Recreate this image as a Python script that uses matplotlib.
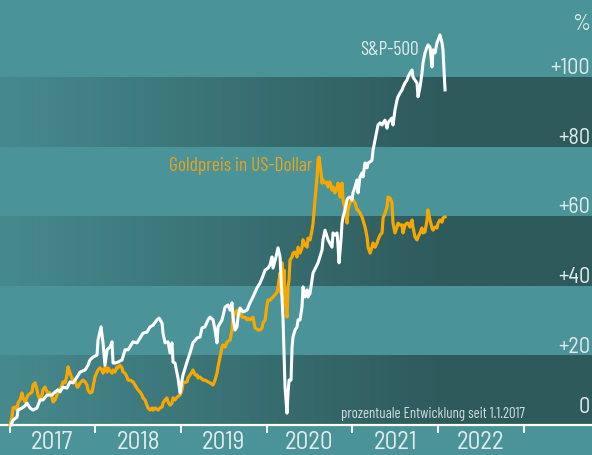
"""S&P-500 vs. Goldpreis in US-Dollar, prozentuale Entwicklung seit 1.1.2017."""
import matplotlib
matplotlib.use("Agg")
import matplotlib.pyplot as plt
import numpy as np
from matplotlib import font_manager as fm
from matplotlib.colors import to_rgb

# --- data: years since 1.1.2017 / percent change -------------------------
sp_t = [0.018, 0.041, 0.088, 0.099, 0.146, 0.181, 0.204, 0.239, 0.274, 0.321,
        0.356, 0.391, 0.438, 0.496, 0.531, 0.566, 0.589, 0.624, 0.671, 0.706,
        0.741, 0.788, 0.823, 0.881, 0.916, 0.939, 0.974, 1.021, 1.033, 1.068,
        1.091, 1.114, 1.138, 1.173, 1.196, 1.208, 1.231, 1.266, 1.313, 1.348,
        1.383, 1.441, 1.488, 1.523, 1.558, 1.604, 1.640, 1.675, 1.721, 1.745,
        1.780, 1.791, 1.815, 1.850, 1.873, 1.896, 1.908, 1.931, 1.966, 1.990,
        2.013, 2.025, 2.071, 2.106, 2.141, 2.188, 2.223, 2.246, 2.281, 2.316,
        2.340, 2.375, 2.398, 2.421, 2.433, 2.480, 2.515, 2.550, 2.573, 2.596,
        2.608, 2.631, 2.655, 2.666, 2.690, 2.725, 2.771, 2.806, 2.841, 2.888,
        2.923, 2.947, 2.982, 3.017, 3.040, 3.063, 3.075, 3.110, 3.133, 3.157,
        3.168, 3.192, 3.203, 3.215, 3.238, 3.250, 3.262, 3.285, 3.297, 3.308,
        3.332, 3.355, 3.367, 3.390, 3.413, 3.425, 3.448, 3.472, 3.483, 3.507,
        3.542, 3.600, 3.647, 3.658, 3.682, 3.717, 3.763, 3.775, 3.798, 3.822,
        3.833, 3.845, 3.868, 3.880, 3.892, 3.915, 3.939, 3.950, 3.973, 3.997,
        4.008, 4.032, 4.055, 4.067, 4.090, 4.113, 4.125, 4.149, 4.172, 4.184,
        4.207, 4.230, 4.242, 4.265, 4.289, 4.300, 4.324, 4.347, 4.359, 4.382,
        4.405, 4.417, 4.440, 4.463, 4.475, 4.498, 4.522, 4.533, 4.557, 4.580,
        4.592, 4.615, 4.638, 4.650, 4.673, 4.697, 4.708, 4.732, 4.755, 4.767,
        4.790, 4.813, 4.825, 4.848, 4.872, 4.883, 4.907, 4.930, 4.942, 4.965,
        4.988, 5.000, 5.023, 5.047, 5.058, 5.082]
sp_v = [0.0, 1.4, 2.3, 4.3, 4.9, 5.5, 6.3, 4.9, 4.3, 4.9,
        7.2, 7.2, 8.6, 8.6, 9.5, 10.1, 9.5, 10.9, 10.6, 12.4,
        12.1, 13.8, 15.2, 15.8, 17.2, 18.7, 19.5, 20.1, 24.4, 28.2,
        23.6, 17.2, 21.6, 22.4, 23.9, 17.8, 17.8, 18.1, 18.7, 21.6,
        21.6, 23.9, 23.6, 25.0, 26.4, 26.7, 28.2, 28.7, 30.2, 30.7,
        29.3, 26.4, 23.6, 23.9, 20.7, 23.6, 18.1, 17.8, 13.5, 9.2,
        12.9, 14.4, 18.1, 20.7, 23.6, 25.0, 25.3, 27.9, 28.2, 30.2,
        31.0, 30.2, 27.3, 23.6, 28.2, 30.2, 33.9, 34.5, 33.0, 35.1,
        31.0, 27.3, 28.2, 31.0, 33.6, 32.5, 33.0, 35.1, 36.8, 39.4,
        40.8, 42.2, 44.5, 45.1, 46.0, 48.3, 45.1, 48.3, 50.9, 48.3,
        42.5, 30.2, 20.7, 10.9, 3.4, 9.2, 12.9, 12.9, 22.4, 25.3,
        27.3, 28.2, 30.2, 30.2, 33.9, 39.7, 36.8, 38.8, 36.8, 37.9,
        43.7, 46.6, 50.3, 53.2, 56.0, 53.2, 51.1, 55.2, 54.6, 55.2,
        51.7, 46.6, 53.2, 58.0, 59.8, 61.8, 64.7, 65.2, 65.5, 64.7,
        66.7, 68.4, 70.4, 66.7, 71.3, 72.4, 71.3, 75.3, 73.9, 75.3,
        75.6, 76.1, 79.0, 81.9, 84.8, 86.2, 86.8, 86.2, 86.8, 87.6,
        85.3, 86.8, 87.6, 88.2, 86.2, 90.5, 93.4, 94.3, 95.4, 96.3,
        97.1, 98.3, 99.1, 100.0, 101.1, 102.0, 100.0, 99.1, 98.3, 94.3,
        97.1, 101.1, 104.0, 106.9, 108.6, 109.2, 108.6, 102.9, 107.8, 106.9,
        109.8, 110.6, 112.1, 109.8, 107.8, 96.3]

gold_t = [0.006, 0.029, 0.041, 0.064, 0.088, 0.099, 0.123, 0.146, 0.158, 0.181,
          0.204, 0.216, 0.263, 0.274, 0.298, 0.321, 0.333, 0.356, 0.379, 0.391,
          0.414, 0.438, 0.473, 0.496, 0.508, 0.531, 0.554, 0.566, 0.589, 0.613,
          0.624, 0.648, 0.671, 0.683, 0.706, 0.729, 0.741, 0.764, 0.788, 0.799,
          0.823, 0.858, 0.881, 0.904, 0.916, 0.939, 0.963, 0.974, 0.998, 1.021,
          1.033, 1.056, 1.079, 1.091, 1.114, 1.138, 1.149, 1.196, 1.208, 1.231,
          1.254, 1.266, 1.289, 1.313, 1.324, 1.348, 1.371, 1.383, 1.406, 1.441,
          1.464, 1.488, 1.499, 1.523, 1.546, 1.558, 1.581, 1.604, 1.616, 1.640,
          1.663, 1.675, 1.698, 1.733, 1.756, 1.780, 1.791, 1.815, 1.838, 1.850,
          1.873, 1.896, 1.908, 1.931, 1.955, 1.990, 2.013, 2.025, 2.071, 2.083,
          2.106, 2.130, 2.141, 2.165, 2.188, 2.200, 2.223, 2.258, 2.281, 2.316,
          2.340, 2.375, 2.398, 2.421, 2.433, 2.456, 2.480, 2.491, 2.515, 2.538,
          2.573, 2.596, 2.608, 2.631, 2.655, 2.666, 2.690, 2.713, 2.748, 2.771,
          2.783, 2.806, 2.841, 2.865, 2.900, 2.923, 2.947, 2.958, 2.982, 3.005,
          3.017, 3.040, 3.075, 3.098, 3.122, 3.133, 3.157, 3.168, 3.180, 3.192,
          3.203, 3.215, 3.238, 3.250, 3.262, 3.273, 3.297, 3.308, 3.332, 3.355,
          3.367, 3.390, 3.413, 3.425, 3.448, 3.472, 3.483, 3.507, 3.530, 3.542,
          3.565, 3.589, 3.600, 3.612, 3.635, 3.647, 3.658, 3.682, 3.705, 3.717,
          3.740, 3.763, 3.775, 3.798, 3.822, 3.833, 3.857, 3.880, 3.892, 3.915,
          3.939, 3.950, 3.973, 3.997, 4.008, 4.032, 4.055, 4.067, 4.090, 4.113,
          4.125, 4.149, 4.172, 4.184, 4.207, 4.230, 4.242, 4.265, 4.289, 4.300,
          4.324, 4.347, 4.359, 4.382, 4.405, 4.417, 4.440, 4.463, 4.475, 4.498,
          4.522, 4.533, 4.557, 4.580, 4.592, 4.615, 4.638, 4.650, 4.673, 4.697,
          4.708, 4.732, 4.755, 4.767, 4.790, 4.813, 4.825, 4.848, 4.872, 4.883,
          4.907, 4.930, 4.942, 4.965, 4.988, 5.000, 5.023, 5.047, 5.058, 5.082]
gold_v = [0.0, 2.3, 4.9, 5.2, 4.3, 6.3, 7.2, 9.2, 7.8, 6.6,
          8.0, 8.6, 9.5, 11.5, 12.1, 10.1, 8.6, 7.2, 8.6, 10.1,
          10.9, 9.5, 9.2, 8.0, 6.6, 7.2, 8.6, 10.1, 10.1, 11.5,
          12.4, 12.1, 14.4, 16.7, 14.9, 13.5, 12.4, 12.9, 10.9, 10.9,
          12.1, 12.9, 12.4, 11.5, 10.1, 9.2, 9.5, 10.9, 13.8, 15.2,
          15.8, 16.4, 15.8, 14.9, 16.7, 15.2, 16.4, 14.9, 15.8, 15.2,
          16.7, 16.4, 17.2, 16.4, 15.2, 14.9, 13.8, 12.9, 12.9, 12.4,
          11.5, 10.6, 10.1, 9.5, 8.6, 7.8, 7.2, 5.7, 4.9, 4.3,
          4.9, 4.3, 4.9, 4.3, 4.9, 5.2, 6.3, 7.2, 7.8, 6.6,
          5.7, 6.3, 7.8, 7.2, 8.0, 8.6, 10.1, 12.1, 12.4, 13.5,
          14.4, 15.2, 15.8, 14.4, 14.4, 13.5, 13.8, 12.9, 12.9, 12.4,
          12.1, 11.5, 12.9, 14.9, 16.7, 19.5, 22.4, 23.0, 22.4, 23.9,
          24.4, 27.3, 31.0, 32.2, 33.0, 31.6, 32.2, 31.0, 31.0, 30.2,
          30.7, 30.2, 31.0, 27.9, 27.3, 27.3, 27.9, 29.3, 30.2, 34.5,
          35.9, 35.9, 36.8, 37.4, 38.2, 39.7, 43.7, 37.9, 46.6, 36.8,
          44.5, 35.9, 31.0, 39.7, 41.7, 47.4, 48.3, 49.4, 49.7, 48.3,
          51.1, 49.4, 50.9, 53.2, 51.7, 51.1, 53.7, 53.2, 56.0, 58.0,
          64.7, 71.3, 76.1, 77.0, 72.4, 69.5, 70.4, 69.5, 69.8, 68.4,
          69.8, 67.5, 68.4, 66.7, 68.4, 69.5, 65.5, 69.5, 64.7, 61.8,
          58.0, 61.8, 63.8, 65.2, 64.7, 63.8, 61.8, 61.8, 60.9, 59.8,
          58.9, 56.9, 54.0, 51.1, 49.4, 51.1, 52.3, 51.1, 52.3, 53.2,
          54.6, 55.2, 59.5, 60.9, 62.6, 65.5, 65.2, 63.8, 58.0, 55.2,
          56.9, 58.0, 57.5, 57.5, 55.2, 57.5, 58.0, 58.0, 56.9, 58.9,
          56.9, 54.0, 53.2, 54.0, 55.2, 56.6, 55.2, 55.5, 58.9, 61.8,
          58.9, 56.6, 56.0, 56.9, 56.6, 58.0, 58.9, 58.3, 59.5, 59.8]

years = [2017, 2018, 2019, 2020, 2021, 2022]
y_ticks = [0, 20, 40, 60, 80, 100]
y_labels = ["0", "+20", "+40", "+60", "+80", "+100"]

# --- style -----------------------------------------------------------------
LIGHT = "#4a9398"
DARK_L, DARK_R = "#468a8e", "#2e5a5c"
TXT = "#e2ebeb"
GOLD, GOLD_TXT = "#f7a800", "#e9a41e"
names = {f.name for f in fm.fontManager.ttflist}
FONT = next((f for f in ("Barlow Condensed", "Roboto Condensed", "Archivo Narrow",
                         "Asap Condensed") if f in names), "DejaVu Sans")
AXFONT = "Barlow Semi Condensed" if "Barlow Semi Condensed" in names else FONT
plt.rcParams["font.family"] = [FONT, "DejaVu Sans"]

X0, X1 = 2016.889, 2023.797
Y0, Y1 = -8.62, 122.13

fig = plt.figure(figsize=(5.92, 4.55), dpi=100, facecolor=LIGHT)
ax = fig.add_axes([0, 0, 1, 1], facecolor=LIGHT)
ax.axis("off")

# dark bands with left-to-right gradient
n = 300
frac = np.clip(np.linspace(0, 1, n) / 0.75, 0, 1)
c0, c1 = np.array(to_rgb(DARK_L)), np.array(to_rgb(DARK_R))
grad = (c0[None, :] * (1 - frac[:, None]) + c1[None, :] * frac[:, None])[None]
for lo in (0, 40, 80):
    ax.imshow(grad, extent=[X0, X1, lo, lo + 20], aspect="auto",
              interpolation="bilinear", zorder=0)
ax.set_xlim(X0, X1); ax.set_ylim(Y0, Y1)

# axis line, ticks, labels
ax.axhline(0, color="white", lw=1.6, zorder=3)
ax.vlines(years + [2023], -2.2, 0, color="white", lw=1.4, zorder=3)
for yr in years:
    ax.text(yr + 0.5, -5.0, str(yr), color=TXT, fontsize=18, family=AXFONT,
            ha="center", va="center")
for v, lab in zip(y_ticks, y_labels):
    ax.text(2023.775, v + (3.5 if v == 0 else 0.8), lab, color=TXT,
            fontsize=16, family=AXFONT, ha="right", va="baseline")
ax.text(2023.775, 113.6, "%", color=TXT, fontsize=16, family=AXFONT,
        ha="right", va="baseline")

# series
ax.plot([2017 + t for t in gold_t], gold_v, color=GOLD, lw=2.3, zorder=4,
        solid_joinstyle="round")
ax.plot([2017 + t for t in sp_t], sp_v, color="white", lw=2.2, zorder=5,
        solid_joinstyle="round")

ax.text(2021.09, 106.3, "S&P-500", color=TXT, fontsize=14, va="baseline")
ax.text(2018.86, 73.0, "Goldpreis in US-Dollar", color=GOLD_TXT, fontsize=14,
        va="baseline")
ax.text(2023.015, 2.0, "prozentuale Entwicklung seit 1.1.2017", color="#d3dede",
        fontsize=10.7, ha="right", va="baseline")

fig.savefig("out.png", dpi=100, facecolor=LIGHT)
